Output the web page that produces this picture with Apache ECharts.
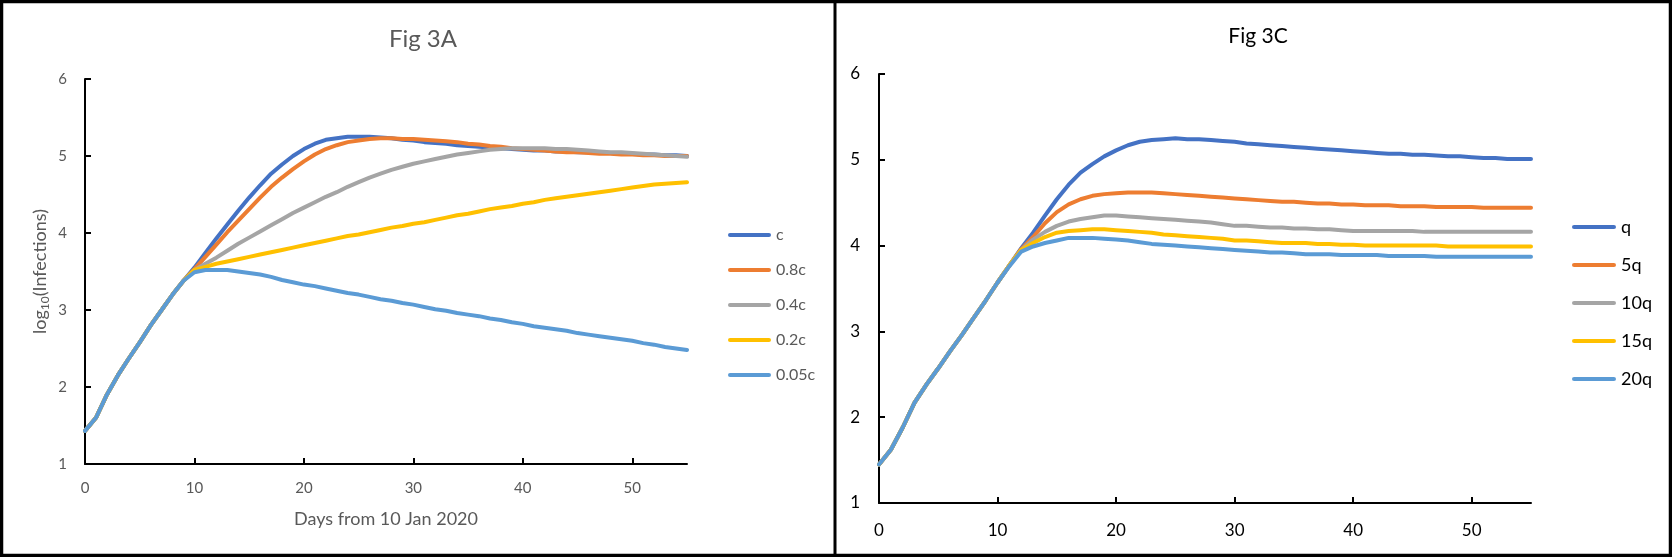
<!DOCTYPE html>
<html>
<head>
<meta charset="utf-8">
<script src="https://cdn.jsdelivr.net/npm/echarts@6/dist/echarts.min.js"></script>
<style>
html,body{margin:0;padding:0;background:#fff;}
#chart{width:1672px;height:557px;}
</style>
</head>
<body>
<div id="chart"></div>
<script>
// ---- data ----
const days = Array.from({length:56}, (_, i) => i);
const xTicks = [0,10,20,30,40,50];
const yTicks = [1,2,3,4,5,6];

const namesA = ['c','0.8c','0.4c','0.2c','0.05c'];
const A_c    = [1.43,1.6,1.9,2.15,2.37,2.58,2.8,3.0,3.2,3.38, 3.55,3.74,3.93,4.11,4.29,4.46,4.62,4.77,4.89,5.0, 5.09,5.16,5.21,5.23,5.25,5.25,5.25,5.24,5.23,5.21, 5.2,5.18,5.17,5.16,5.14,5.13,5.12,5.11,5.1,5.09, 5.08,5.07,5.07,5.06,5.06,5.05,5.05,5.04,5.04,5.03, 5.03,5.02,5.02,5.01,5.01,5.0];
const A_c08  = [1.43,1.6,1.9,2.15,2.37,2.58,2.8,3.0,3.2,3.38, 3.53,3.69,3.85,4.01,4.16,4.31,4.46,4.6,4.72,4.83, 4.93,5.02,5.09,5.14,5.18,5.2,5.22,5.23,5.23,5.22, 5.22,5.21,5.2,5.19,5.18,5.16,5.15,5.13,5.12,5.1, 5.09,5.08,5.07,5.06,5.05,5.05,5.04,5.03,5.03,5.02, 5.02,5.01,5.01,5.0,5.0,5.0];
const A_c04  = [1.43,1.6,1.9,2.15,2.37,2.58,2.8,3.0,3.2,3.38, 3.52,3.6,3.68,3.77,3.86,3.94,4.02,4.1,4.18,4.26, 4.33,4.4,4.47,4.53,4.6,4.66,4.72,4.77,4.82,4.86, 4.9,4.93,4.96,4.99,5.02,5.04,5.06,5.08,5.09,5.1, 5.1,5.1,5.1,5.09,5.09,5.08,5.07,5.06,5.05,5.05, 5.04,5.03,5.02,5.01,5.0,4.99];
const A_c02  = [1.43,1.6,1.9,2.15,2.37,2.58,2.8,3.0,3.2,3.38, 3.52,3.56,3.6,3.63,3.66,3.69,3.72,3.75,3.78,3.81, 3.84,3.87,3.9,3.93,3.96,3.98,4.01,4.04,4.07,4.09, 4.12,4.14,4.17,4.2,4.23,4.25,4.28,4.31,4.33,4.35, 4.38,4.4,4.43,4.45,4.47,4.49,4.51,4.53,4.55,4.57, 4.59,4.61,4.63,4.64,4.65,4.66];
const A_c005 = [1.43,1.6,1.9,2.15,2.37,2.58,2.8,3.0,3.2,3.38, 3.49,3.52,3.52,3.52,3.5,3.48,3.46,3.43,3.39,3.36, 3.33,3.31,3.28,3.25,3.22,3.2,3.17,3.14,3.12,3.09, 3.07,3.04,3.01,2.99,2.96,2.94,2.92,2.89,2.87,2.84, 2.82,2.79,2.77,2.75,2.73,2.7,2.68,2.66,2.64,2.62, 2.6,2.57,2.55,2.52,2.5,2.48];

const namesC = ['q','5q','10q','15q','20q'];
const C_q   = [1.45,1.62,1.88,2.17,2.38,2.57,2.77,2.96,3.16,3.36,3.57,3.77, 3.97,4.15,4.35,4.54,4.71,4.85,4.95,5.04, 5.11,5.17,5.21,5.23,5.24,5.25,5.24,5.24,5.23,5.22, 5.21,5.19,5.18,5.17,5.16,5.15,5.14,5.13,5.12,5.11, 5.1,5.09,5.08,5.07,5.07,5.06,5.06,5.05,5.04,5.04, 5.03,5.02,5.02,5.01,5.01,5.01];
const C_5q  = [1.45,1.62,1.88,2.17,2.38,2.57,2.77,2.96,3.16,3.36,3.57,3.77, 3.96,4.1,4.26,4.39,4.48,4.54,4.58,4.6, 4.61,4.62,4.62,4.62,4.61,4.6,4.59,4.58,4.57,4.56, 4.55,4.54,4.53,4.52,4.51,4.51,4.5,4.49,4.49,4.48, 4.48,4.47,4.47,4.47,4.46,4.46,4.46,4.45,4.45,4.45, 4.45,4.44,4.44,4.44,4.44,4.44];
const C_10q = [1.45,1.62,1.88,2.17,2.38,2.57,2.77,2.96,3.16,3.36,3.57,3.77, 3.95,4.07,4.16,4.23,4.28,4.31,4.33,4.35, 4.35,4.34,4.33,4.32,4.31,4.3,4.29,4.28,4.27,4.25, 4.23,4.23,4.22,4.21,4.21,4.2,4.2,4.19,4.19,4.18, 4.17,4.17,4.17,4.17,4.17,4.17,4.16,4.16,4.16,4.16, 4.16,4.16,4.16,4.16,4.16,4.16];
const C_15q = [1.45,1.62,1.88,2.17,2.38,2.57,2.77,2.96,3.16,3.36,3.57,3.77, 3.95,4.03,4.1,4.15,4.17,4.18,4.19,4.19, 4.18,4.17,4.16,4.15,4.13,4.12,4.11,4.1,4.09,4.08, 4.06,4.06,4.05,4.04,4.03,4.03,4.03,4.02,4.02,4.01, 4.01,4.0,4.0,4.0,4.0,4.0,4.0,4.0,3.99,3.99, 3.99,3.99,3.99,3.99,3.99,3.99];
const C_20q = [1.45,1.62,1.88,2.17,2.38,2.57,2.77,2.96,3.16,3.36,3.57,3.76, 3.93,3.99,4.03,4.06,4.09,4.09,4.09,4.08, 4.07,4.06,4.04,4.02,4.01,4.0,3.99,3.98,3.97,3.96, 3.95,3.94,3.93,3.92,3.92,3.91,3.9,3.9,3.9,3.89, 3.89,3.89,3.89,3.88,3.88,3.88,3.88,3.87,3.87,3.87, 3.87,3.87,3.87,3.87,3.87,3.87];

const colors = ['#4472C4','#ED7D31','#A5A5A5','#FFC000','#5B9BD5'];
const FONT = 'Lato';

// ---- chart ----
const chart = echarts.init(document.getElementById('chart'), null, {renderer:'canvas'});
const seriesA = [A_c, A_c08, A_c04, A_c02, A_c005];
const seriesC = [C_q, C_5q, C_10q, C_15q, C_20q];
const pairs = arr => days.map((d, i) => [d, arr[i]]);
const capsule = 'path://M2,0 L41,0 A2,2 0 0 1 41,4 L2,4 A2,2 0 0 1 2,0 Z';

function mkSeries(arrs, names, idx) {
  return arrs.map((a, i) => ({
    type:'line', name:names[i], xAxisIndex:idx, yAxisIndex:idx,
    data:pairs(a), showSymbol:false, symbol:'none',
    lineStyle:{width:4, color:colors[i], cap:'round', join:'round'},
    itemStyle:{color:colors[i]}, animation:false
  }));
}

function xAxis(idx, labelColor, fontSize, margin, extra) {
  return Object.assign({
    type:'value', gridIndex:idx, min:0, max:55, interval:10,
    axisLine:{show:true, lineStyle:{color:'#000', width:2}},
    axisTick:{show:true, inside:true, length:6, lineStyle:{color:'#000', width:2}, customValues:xTicks},
    axisLabel:{color:labelColor, fontSize:fontSize, fontFamily:FONT, margin:margin, customValues:xTicks},
    splitLine:{show:false}
  }, extra||{});
}
function yAxis(idx, labelColor, fontSize, margin, extra) {
  return Object.assign({
    type:'value', gridIndex:idx, min:1, max:6, interval:1,
    axisLine:{show:true, lineStyle:{color:'#000', width:2}},
    axisTick:{show:true, inside:true, length:6, lineStyle:{color:'#000', width:2}, customValues:yTicks},
    axisLabel:{color:labelColor, fontSize:fontSize, fontFamily:FONT, margin:margin, customValues:yTicks},
    splitLine:{show:false}
  }, extra||{});
}

const option = {
  backgroundColor:'#fff',
  animation:false,
  title:[
    {text:'Fig 3A', left:418, top:22, textAlign:'center',
     textStyle:{color:'#595959', fontSize:24, fontWeight:'normal', fontFamily:FONT}},
    {text:'Fig 3C', left:1253, top:21, textAlign:'center',
     textStyle:{color:'#000', fontSize:21, fontWeight:'normal', fontFamily:FONT}}
  ],
  legend:[
    {data:namesA, orient:'vertical', left:728, top:225, padding:0, itemGap:15,
     itemWidth:43, itemHeight:4.5, icon:capsule,
     textStyle:{color:'#595959', fontSize:16, fontFamily:FONT, lineHeight:20}},
    {data:namesC, orient:'vertical', left:1572, top:217, padding:0, itemGap:18,
     itemWidth:44, itemHeight:4.5, icon:capsule,
     textStyle:{color:'#000', fontSize:18, fontFamily:FONT, lineHeight:20}}
  ],
  grid:[
    {left:85, right:985, top:79, bottom:93, containLabel:false},
    {left:879, right:141, top:74, bottom:54, containLabel:false}
  ],
  xAxis:[
    xAxis(0, '#595959', 15, 17, {name:'Days from 10 Jan 2020', nameLocation:'middle', nameGap:46,
      nameTextStyle:{color:'#595959', fontSize:18, fontFamily:FONT}}),
    xAxis(1, '#000', 17, 19)
  ],
  yAxis:[
    yAxis(0, '#595959', 15, 18, {name:'{a|log}{b|10}{a|(Infections)}', nameLocation:'middle', nameGap:34, nameRotate:90,
      nameTextStyle:{color:'#595959', fontSize:18, fontFamily:FONT,
        rich:{a:{fontSize:18, color:'#595959', fontFamily:FONT, lineHeight:22},
              b:{fontSize:12, color:'#595959', fontFamily:FONT, verticalAlign:'bottom', lineHeight:14}}}}),
    yAxis(1, '#000', 17, 19)
  ],
  series: mkSeries(seriesA, namesA, 0).concat(mkSeries(seriesC, namesC, 1)),
  graphic:[
    {type:'rect', silent:true, z:100, shape:{x:1.5, y:1.5, width:1669, height:554},
     style:{fill:null, stroke:'#000', lineWidth:3.5}},
    {type:'line', silent:true, z:100, shape:{x1:835, y1:0, x2:835, y2:557},
     style:{stroke:'#000', lineWidth:3}}
  ]
};
chart.setOption(option);
</script>
</body>
</html>
